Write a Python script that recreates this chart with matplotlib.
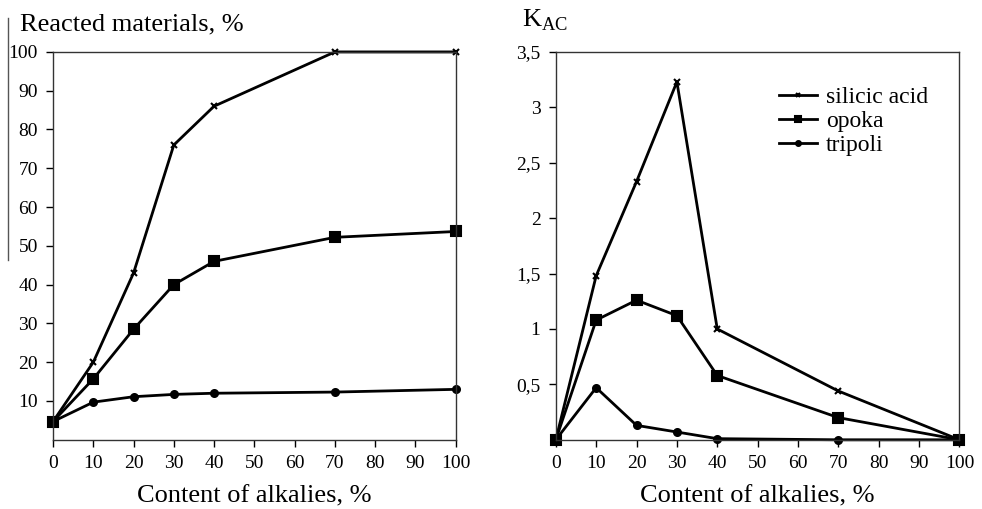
import matplotlib.pyplot as plt
from matplotlib.lines import Line2D
from matplotlib.ticker import FuncFormatter

plt.rcParams['font.family'] = 'Liberation Serif'

alkali = [0, 10, 20, 30, 40, 70, 100]

# reacted materials, %
react_silicic = [4.7, 20, 43, 76, 86, 100, 100]
react_opoka = [4.7, 15.7, 28.5, 40, 46, 52.2, 53.7]
react_tripoli = [4.7, 9.7, 11.1, 11.7, 12, 12.3, 13]

# K_AC
kac_silicic = [0, 1.48, 2.33, 3.23, 1.0, 0.44, 0]
kac_opoka = [0, 1.08, 1.26, 1.12, 0.58, 0.2, 0]
kac_tripoli = [0, 0.47, 0.13, 0.07, 0.01, 0.0, 0]

names = ['silicic acid', 'opoka', 'tripoli']
markers = ['x', 's', 'o']
msizes = [4, 7, 5]

fig = plt.figure(figsize=(9.82, 5.09), dpi=100)
ax1 = fig.add_axes([0.054, 0.136, 0.410, 0.762])
ax2 = fig.add_axes([0.566, 0.136, 0.411, 0.762])

for ys, m, ms, n in zip([react_silicic, react_opoka, react_tripoli], markers, msizes, names):
    ax1.plot(alkali, ys, color='black', lw=2, marker=m, ms=ms, mew=1.5, label=n, clip_on=False)
for ys, m, ms, n in zip([kac_silicic, kac_opoka, kac_tripoli], markers, msizes, names):
    ax2.plot(alkali, ys, color='black', lw=2, marker=m, ms=ms, mew=1.5, label=n, clip_on=False)

for ax in (ax1, ax2):
    ax.set_xlim(0, 100)
    ax.set_xticks(range(0, 101, 10))
    ax.tick_params(direction='out', length=5, width=1, labelsize=14, pad=6)
    for s in ax.spines.values():
        s.set_linewidth(1)
        s.set_color('#333333')
    ax.set_xlabel('Content of alkalies, %', fontsize=19, labelpad=10)

ax1.set_ylim(0, 100)
ax1.set_yticks(range(10, 101, 10))
ax1.text(-0.082, 1.042, 'Reacted materials, %', transform=ax1.transAxes, fontsize=19,
         ha='left', va='bottom')

ax2.set_ylim(0, 3.5)
ax2.set_yticks([0.5, 1, 1.5, 2, 2.5, 3, 3.5])
ax2.yaxis.set_major_formatter(FuncFormatter(lambda v, p: ('%g' % v).replace('.', ',')))
ax2.text(-0.085, 1.05, r'K$_{\mathregular{AC}}$', transform=ax2.transAxes, fontsize=19,
         ha='left', va='bottom')

ax2.legend(loc='upper left', bbox_to_anchor=(0.5, 0.965), frameon=False, fontsize=17,
           handlelength=1.6, handletextpad=0.4, labelspacing=0.1, markerscale=0.7)

# thin scan edge line at far left
fig.add_artist(Line2D([0.008, 0.008], [0.49, 0.965], color='#555555', lw=1))

fig.savefig('out.png', dpi=100)
